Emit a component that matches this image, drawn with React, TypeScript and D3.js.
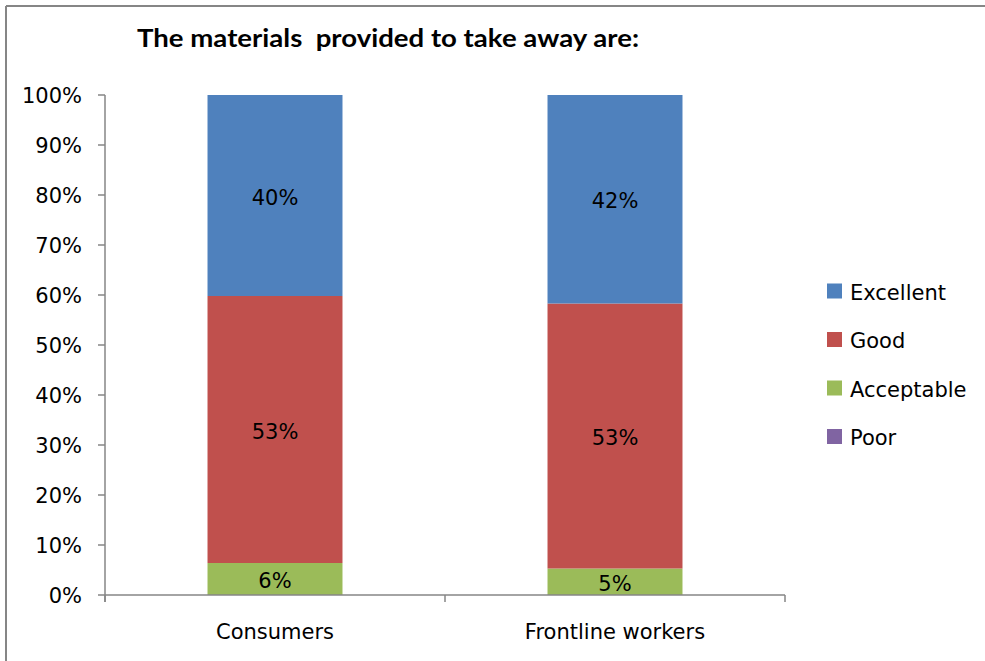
import React from "react";
import * as d3 from "d3";

const categories = ["Consumers", "Frontline workers"];
const seriesNames = ["Poor", "Acceptable", "Good", "Excellent"];
const poor = [0, 0];
const acceptable = [6.4, 5.3];
const good = [53.4, 53.0];
const excellent = [40.2, 41.7];
const yTicks = [0, 10, 20, 30, 40, 50, 60, 70, 80, 90, 100];
const legendOrder = ["Excellent", "Good", "Acceptable", "Poor"];
const title = "The materials  provided to take away are:";

const colors: Record<string, string> = {
  Excellent: "#4F81BD",
  Good: "#C0504D",
  Acceptable: "#9BBB59",
  Poor: "#8064A2",
};

const W = 985;
const H = 661;
const plot = { left: 105, right: 785, top: 95, bottom: 595 };
const FONT = "'DejaVu Sans', sans-serif";
const FS = 21;
const AXIS = "#868686";

export default function App() {
  const rows = categories.map((c, i) => ({
    category: c,
    Poor: poor[i],
    Acceptable: acceptable[i],
    Good: good[i],
    Excellent: excellent[i],
  }));
  const stacked = d3.stack<any>().keys(seriesNames)(rows);

  const x = d3
    .scaleBand<string>()
    .domain(categories)
    .range([plot.left, plot.right])
    .paddingInner(0.603)
    .paddingOuter(0.3015);
  const y = d3.scaleLinear().domain([0, 100]).range([plot.bottom, plot.top]);

  const boundaries = [plot.left, (plot.left + plot.right) / 2, plot.right];

  return (
    <svg
      width={W}
      height={H}
      style={{ position: "absolute", left: 0, top: 0, display: "block" }}
    >
      <rect x={0} y={0} width={W} height={H} fill="#fff" />
      {/* outer frame */}
      <line x1={6} y1={6} x2={W} y2={6} stroke={AXIS} strokeWidth={2} />
      <line x1={6} y1={6} x2={6} y2={H} stroke={AXIS} strokeWidth={2} />

      <text
        x={137}
        y={47}
        textLength={502}
        lengthAdjust="spacingAndGlyphs"
        fontFamily="Lato, 'DejaVu Sans', sans-serif"
        fontWeight="bold"
        fontSize={24}
        fill="#000"
        style={{ whiteSpace: "pre" }}
      >
        {title}
      </text>

      {/* bars */}
      {stacked.map((layer) =>
        layer.map((d, i) => {
          const h = y(d[0]) - y(d[1]);
          if (h <= 0) return null;
          return (
            <rect
              key={layer.key + i}
              x={x(categories[i])}
              y={y(d[1])}
              width={x.bandwidth()}
              height={h}
              fill={colors[layer.key]}
            />
          );
        })
      )}

      {/* data labels */}
      {stacked.map((layer) =>
        layer.map((d, i) => {
          const v = d[1] - d[0];
          if (v <= 0) return null;
          return (
            <text
              key={"l" + layer.key + i}
              x={(x(categories[i]) as number) + x.bandwidth() / 2}
              y={(y(d[0]) + y(d[1])) / 2 + 2}
              textAnchor="middle"
              dominantBaseline="central"
              fontFamily={FONT}
              fontSize={FS}
              fill="#000"
            >
              {Math.round(v) + "%"}
            </text>
          );
        })
      )}

      {/* y axis */}
      <line x1={plot.left} y1={plot.top} x2={plot.left} y2={plot.bottom + 7} stroke={AXIS} strokeWidth={1.5} />
      {yTicks.map((t) => (
        <g key={t}>
          <line x1={plot.left - 7} x2={plot.left} y1={y(t)} y2={y(t)} stroke={AXIS} strokeWidth={1.5} />
          <text
            x={82}
            y={y(t) + 1}
            textAnchor="end"
            dominantBaseline="central"
            fontFamily={FONT}
            fontSize={FS}
            fill="#000"
          >
            {t + "%"}
          </text>
        </g>
      ))}

      {/* x axis */}
      <line x1={plot.left} y1={plot.bottom} x2={plot.right} y2={plot.bottom} stroke={AXIS} strokeWidth={1.5} />
      {boundaries.map((b, i) => (
        <line key={i} x1={b} x2={b} y1={plot.bottom} y2={plot.bottom + 7} stroke={AXIS} strokeWidth={1.5} />
      ))}
      {categories.map((c) => (
        <text
          key={c}
          x={(x(c) as number) + x.bandwidth() / 2}
          y={639}
          textAnchor="middle"
          fontFamily={FONT}
          fontSize={FS}
          fill="#000"
        >
          {c}
        </text>
      ))}

      {/* legend */}
      {legendOrder.map((name, i) => {
        const cy = 291 + i * 48.5;
        return (
          <g key={name}>
            <rect x={827} y={cy - 7.5} width={15} height={15} fill={colors[name]} />
            <text
              x={850}
              y={cy + 1.5}
              dominantBaseline="central"
              fontFamily={FONT}
              fontSize={FS}
              fill="#000"
            >
              {name}
            </text>
          </g>
        );
      })}
    </svg>
  );
}
